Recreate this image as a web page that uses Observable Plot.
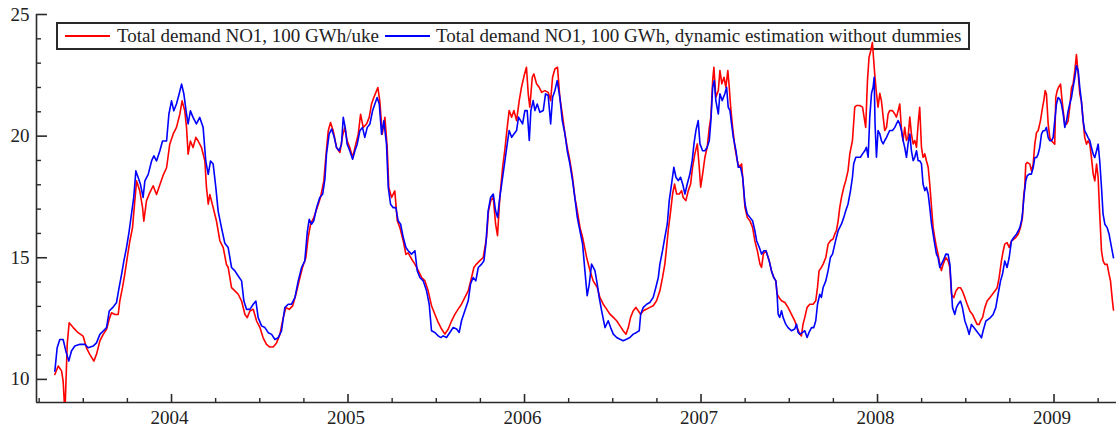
<!DOCTYPE html>
<html>
<head>
<meta charset="utf-8">
<script src="https://cdn.jsdelivr.net/npm/d3@7"></script>
<script src="https://cdn.jsdelivr.net/npm/@observablehq/plot@0.6"></script>
<style>
  html, body { margin: 0; padding: 0; background: #fff; }
  #wrap { position: relative; width: 1116px; height: 430px; font-family: "Liberation Serif", "Times New Roman", serif; }
  #wrap svg { position: relative; z-index: 1; background: transparent; }
  .legend {
    position: absolute; z-index: 0; left: 56px; top: 22px; width: 910px; height: 24px;
    border: 2px solid #2a2a2a; background: #fff; display: flex; align-items: center;
    font-size: 19px; color: #222; white-space: nowrap;
  }
  .legend .swatch { display: inline-block; width: 45px; height: 0; border-top: 2px solid; }
</style>
</head>
<body>
<div id="wrap">
  <div class="legend">
    <span class="swatch" style="border-color:#ff0000;margin-left:7px"></span>
    <span style="margin-left:7px">Total demand NO1, 100 GWh/uke</span>
    <span class="swatch" style="border-color:#0000ff;margin-left:6px"></span>
    <span style="margin-left:6px">Total demand NO1, 100 GWh, dynamic estimation without dummies</span>
  </div>
</div>
<script>
// Weekly demand, [decimal year, 100 GWh]
const observedDemand = [
  [2003.339,10.2],[2003.358,10.55],[2003.377,10.35],[2003.386,9.93],[2003.396,8.6],[2003.409,11.44],[2003.420,12.33],
  [2003.443,12.13],[2003.471,11.92],[2003.499,11.78],[2003.518,11.3],[2003.537,11.03],[2003.560,10.75],[2003.575,11.03],
  [2003.594,11.58],[2003.613,11.85],[2003.632,12.06],[2003.647,12.47],[2003.660,12.74],[2003.679,12.67],[2003.698,12.67],
  [2003.707,13.22],[2003.722,13.77],[2003.735,14.32],[2003.749,15.0],[2003.764,15.69],[2003.779,16.24],[2003.792,17.34],
  [2003.802,18.16],[2003.820,17.75],[2003.836,17.06],[2003.843,16.5],[2003.858,17.34],[2003.877,17.68],[2003.896,17.96],
  [2003.915,17.6],[2003.934,18.0],[2003.953,18.4],[2003.972,18.7],[2003.990,19.67],[2004.009,20.08],[2004.028,20.36],
  [2004.047,20.9],[2004.060,21.45],[2004.075,21.04],[2004.085,20.36],[2004.094,19.26],[2004.107,19.8],[2004.122,19.53],
  [2004.138,19.95],[2004.151,19.8],[2004.170,19.53],[2004.189,18.98],[2004.198,17.89],[2004.208,17.2],[2004.217,17.6],
  [2004.236,17.06],[2004.255,16.5],[2004.274,15.69],[2004.293,15.42],[2004.311,14.73],[2004.321,14.6],[2004.340,13.77],
  [2004.359,13.64],[2004.378,13.5],[2004.397,13.22],[2004.416,12.67],[2004.429,12.54],[2004.444,12.81],[2004.463,12.88],
  [2004.482,12.4],[2004.501,12.13],[2004.519,11.71],[2004.538,11.44],[2004.557,11.33],[2004.576,11.33],[2004.595,11.5],
  [2004.614,11.85],[2004.633,12.54],[2004.648,12.95],[2004.667,12.88],[2004.686,13.02],[2004.705,13.5],[2004.723,14.05],
  [2004.742,14.6],[2004.761,15.0],[2004.774,15.83],[2004.788,16.38],[2004.806,16.65],[2004.825,17.06],[2004.844,17.48],
  [2004.863,18.16],[2004.874,19.12],[2004.888,20.22],[2004.901,20.56],[2004.916,20.22],[2004.935,19.53],[2004.954,19.33],
  [2004.969,20.01],[2004.982,20.36],[2004.995,19.81],[2005.010,19.53],[2005.026,19.12],[2005.044,19.67],[2005.058,20.08],
  [2005.071,20.9],[2005.086,20.36],[2005.105,20.5],[2005.120,20.77],[2005.133,21.32],[2005.146,21.59],[2005.158,21.8],
  [2005.169,22.0],[2005.180,21.45],[2005.194,20.08],[2005.209,20.77],[2005.222,19.53],[2005.231,17.89],[2005.247,17.48],
  [2005.265,17.75],[2005.279,16.52],[2005.294,16.24],[2005.313,15.69],[2005.328,15.14],[2005.341,15.2],[2005.360,14.95],
  [2005.379,14.74],[2005.398,14.47],[2005.417,14.19],[2005.436,14.05],[2005.454,13.64],[2005.473,13.03],[2005.492,12.68],
  [2005.511,12.34],[2005.530,12.07],[2005.549,11.86],[2005.568,12.07],[2005.587,12.41],[2005.606,12.68],[2005.624,12.89],
  [2005.643,13.09],[2005.662,13.37],[2005.681,13.64],[2005.700,14.19],[2005.713,14.6],[2005.728,14.74],[2005.747,14.88],
  [2005.766,15.01],[2005.785,15.84],[2005.796,16.93],[2005.809,17.35],[2005.823,17.48],[2005.836,16.39],[2005.847,15.91],
  [2005.860,17.48],[2005.876,18.72],[2005.889,19.47],[2005.902,20.36],[2005.913,21.05],[2005.927,20.78],[2005.940,21.05],
  [2005.955,20.64],[2005.970,21.46],[2005.983,22.01],[2005.998,22.49],[2006.011,22.83],[2006.021,21.74],[2006.030,21.19],
  [2006.044,22.42],[2006.053,22.56],[2006.068,22.15],[2006.083,22.01],[2006.097,21.8],[2006.115,21.87],[2006.134,21.8],
  [2006.148,21.46],[2006.159,22.42],[2006.172,22.76],[2006.187,22.83],[2006.200,21.6],[2006.214,20.91],[2006.229,20.09],
  [2006.242,19.54],[2006.257,18.99],[2006.272,18.31],[2006.285,17.48],[2006.299,16.93],[2006.314,16.25],[2006.329,15.84],
  [2006.352,15.01],[2006.371,14.47],[2006.389,14.05],[2006.412,13.78],[2006.427,13.37],[2006.446,13.09],[2006.465,12.89],
  [2006.484,12.68],[2006.503,12.55],[2006.522,12.41],[2006.541,12.2],[2006.559,12.0],[2006.575,11.86],[2006.588,12.13],
  [2006.601,12.55],[2006.616,12.82],[2006.631,12.96],[2006.644,12.82],[2006.658,12.68],[2006.673,12.82],[2006.692,12.89],
  [2006.710,12.96],[2006.729,13.03],[2006.748,13.23],[2006.767,13.64],[2006.782,14.19],[2006.795,14.74],[2006.805,15.43],
  [2006.814,16.11],[2006.828,16.93],[2006.839,17.62],[2006.850,18.03],[2006.862,17.62],[2006.877,17.62],[2006.890,17.76],
  [2006.899,17.48],[2006.914,17.35],[2006.928,17.76],[2006.941,18.03],[2006.952,18.72],[2006.965,19.27],[2006.979,19.68],
  [2006.990,18.72],[2006.998,17.9],[2007.009,18.44],[2007.022,19.13],[2007.035,19.54],[2007.047,20.36],[2007.056,20.78],
  [2007.066,22.28],[2007.073,22.83],[2007.084,21.6],[2007.098,21.87],[2007.107,22.7],[2007.118,22.15],[2007.130,22.42],
  [2007.141,22.01],[2007.152,22.7],[2007.160,22.01],[2007.168,21.19],[2007.179,20.36],[2007.192,19.54],[2007.205,18.99],
  [2007.217,18.72],[2007.230,18.86],[2007.239,18.03],[2007.249,17.07],[2007.262,16.66],[2007.277,16.52],[2007.292,16.25],
  [2007.305,15.7],[2007.319,15.29],[2007.334,14.74],[2007.343,14.6],[2007.353,15.15],[2007.368,15.29],[2007.386,14.88],
  [2007.399,14.47],[2007.412,14.19],[2007.424,14.05],[2007.431,13.5],[2007.442,13.37],[2007.456,13.23],[2007.475,13.16],
  [2007.493,12.96],[2007.512,12.68],[2007.531,12.41],[2007.544,12.13],[2007.560,11.86],[2007.569,11.79],[2007.578,12.27],
  [2007.588,12.55],[2007.601,12.96],[2007.616,13.09],[2007.635,13.09],[2007.650,13.23],[2007.660,13.78],[2007.669,14.47],
  [2007.682,14.6],[2007.692,14.74],[2007.707,15.01],[2007.720,15.56],[2007.733,15.7],[2007.748,15.77],[2007.758,15.98],
  [2007.767,16.11],[2007.777,16.52],[2007.786,17.07],[2007.796,17.48],[2007.809,17.9],[2007.820,18.17],[2007.833,18.58],
  [2007.843,19.27],[2007.858,19.82],[2007.871,21.19],[2007.881,21.26],[2007.899,21.26],[2007.915,21.19],[2007.924,20.78],
  [2007.933,20.36],[2007.943,22.28],[2007.952,23.24],[2007.962,23.52],[2007.971,23.85],[2007.984,22.56],[2007.994,21.76],
  [2008.003,21.19],[2008.013,21.76],[2008.022,21.46],[2008.032,20.78],[2008.041,20.23],[2008.051,20.36],[2008.060,20.91],
  [2008.069,21.05],[2008.085,21.05],[2008.098,20.91],[2008.107,20.78],[2008.117,21.05],[2008.126,21.32],[2008.136,20.23],
  [2008.145,19.82],[2008.154,20.36],[2008.164,19.82],[2008.173,19.95],[2008.183,20.78],[2008.192,20.09],[2008.202,19.68],
  [2008.211,19.82],[2008.221,19.54],[2008.230,20.5],[2008.239,21.19],[2008.249,19.54],[2008.258,19.13],[2008.268,19.27],
  [2008.277,18.99],[2008.287,18.72],[2008.296,18.03],[2008.306,17.07],[2008.315,16.25],[2008.324,15.84],[2008.334,15.43],
  [2008.343,15.15],[2008.353,14.74],[2008.362,14.47],[2008.372,14.74],[2008.387,15.01],[2008.400,14.87],[2008.410,14.6],
  [2008.419,13.5],[2008.432,13.36],[2008.444,13.63],[2008.457,13.77],[2008.470,13.77],[2008.481,13.63],[2008.495,13.36],
  [2008.508,13.09],[2008.523,12.81],[2008.538,12.67],[2008.551,12.47],[2008.564,12.26],[2008.576,12.26],[2008.583,12.4],
  [2008.595,12.54],[2008.608,12.95],[2008.621,13.22],[2008.636,13.36],[2008.651,13.5],[2008.665,13.63],[2008.678,13.77],
  [2008.689,14.18],[2008.702,14.87],[2008.712,15.28],[2008.721,15.56],[2008.734,15.62],[2008.746,15.42],[2008.759,15.69],
  [2008.772,15.76],[2008.783,15.83],[2008.797,15.97],[2008.810,16.24],[2008.821,16.65],[2008.829,17.61],[2008.834,17.89],
  [2008.840,18.85],[2008.848,18.92],[2008.863,18.85],[2008.872,18.57],[2008.882,18.85],[2008.891,19.67],[2008.901,20.15],
  [2008.910,20.22],[2008.923,20.63],[2008.935,21.18],[2008.942,21.45],[2008.950,21.87],[2008.957,21.73],[2008.967,20.49],
  [2008.976,19.94],[2008.986,19.81],[2008.995,19.74],[2009.004,19.67],[2009.010,21.59],[2009.018,21.87],[2009.025,22.0],
  [2009.037,22.14],[2009.044,21.59],[2009.052,21.04],[2009.061,20.49],[2009.071,20.49],[2009.080,20.63],[2009.089,21.18],
  [2009.099,22.0],[2009.108,22.14],[2009.118,22.69],[2009.127,23.35],[2009.137,22.55],[2009.146,21.73],[2009.155,21.45],
  [2009.165,20.63],[2009.174,19.94],[2009.184,19.67],[2009.193,19.81],[2009.203,19.67],[2009.212,19.12],[2009.222,18.44],
  [2009.231,18.16],[2009.241,18.85],[2009.250,18.3],[2009.259,16.79],[2009.269,15.28],[2009.278,14.87],[2009.288,14.73],
  [2009.301,14.73],[2009.312,14.32],[2009.320,14.05],[2009.331,13.22],[2009.337,12.85]
];

const estimatedDemand = [
  [2003.339,10.34],[2003.352,11.3],[2003.367,11.64],[2003.386,11.64],[2003.401,11.17],[2003.418,10.75],[2003.433,11.17],
  [2003.452,11.37],[2003.481,11.44],[2003.509,11.44],[2003.528,11.3],[2003.556,11.37],[2003.575,11.5],[2003.594,11.85],
  [2003.613,11.99],[2003.632,12.13],[2003.647,12.81],[2003.666,12.95],[2003.688,13.15],[2003.703,13.77],[2003.717,14.32],
  [2003.730,14.87],[2003.745,15.42],[2003.760,16.1],[2003.773,16.79],[2003.786,17.48],[2003.798,18.57],[2003.811,18.3],
  [2003.824,18.02],[2003.839,17.48],[2003.849,18.16],[2003.868,18.43],[2003.887,18.98],[2003.900,19.19],[2003.915,18.98],
  [2003.934,19.4],[2003.949,19.8],[2003.972,19.8],[2003.985,20.9],[2004.000,21.45],[2004.013,21.04],[2004.028,21.32],
  [2004.043,21.73],[2004.057,22.14],[2004.070,21.73],[2004.085,20.9],[2004.094,20.5],[2004.107,21.04],[2004.122,20.77],
  [2004.141,20.5],[2004.160,20.77],[2004.179,20.36],[2004.194,18.98],[2004.208,18.43],[2004.221,18.98],[2004.236,18.85],
  [2004.251,17.89],[2004.264,16.93],[2004.283,16.24],[2004.302,15.6],[2004.321,15.42],[2004.340,14.6],[2004.359,14.46],
  [2004.378,14.25],[2004.397,14.05],[2004.410,13.22],[2004.425,12.88],[2004.444,12.88],[2004.463,13.09],[2004.478,13.22],
  [2004.491,12.54],[2004.510,12.2],[2004.529,12.13],[2004.548,11.92],[2004.567,11.85],[2004.586,11.64],[2004.604,11.71],
  [2004.623,11.99],[2004.642,12.95],[2004.661,13.09],[2004.680,13.09],[2004.699,13.36],[2004.718,14.05],[2004.737,14.6],
  [2004.755,14.87],[2004.769,16.04],[2004.780,16.58],[2004.793,16.38],[2004.806,16.52],[2004.822,17.06],[2004.840,17.48],
  [2004.856,17.61],[2004.869,18.23],[2004.878,19.26],[2004.893,20.08],[2004.907,20.29],[2004.920,20.01],[2004.935,19.53],
  [2004.950,19.4],[2004.963,19.67],[2004.973,20.77],[2004.984,20.36],[2004.995,19.67],[2005.010,19.4],[2005.026,19.05],
  [2005.039,19.4],[2005.052,19.67],[2005.067,20.22],[2005.082,20.36],[2005.095,19.95],[2005.109,20.36],[2005.124,20.5],
  [2005.139,21.04],[2005.152,21.32],[2005.165,21.59],[2005.177,21.32],[2005.190,20.08],[2005.203,20.63],[2005.218,19.67],
  [2005.228,17.89],[2005.241,17.2],[2005.256,17.06],[2005.271,17.06],[2005.284,16.52],[2005.298,16.38],[2005.313,15.83],
  [2005.328,15.42],[2005.341,15.29],[2005.360,15.15],[2005.379,15.29],[2005.392,14.47],[2005.407,14.19],[2005.426,14.05],
  [2005.445,13.64],[2005.460,13.09],[2005.473,12.0],[2005.492,11.93],[2005.511,11.79],[2005.526,11.72],[2005.539,11.79],
  [2005.558,11.72],[2005.577,11.93],[2005.596,12.13],[2005.615,12.07],[2005.630,11.93],[2005.643,12.41],[2005.662,12.82],
  [2005.681,13.23],[2005.694,13.92],[2005.709,14.19],[2005.724,14.05],[2005.738,14.6],[2005.757,14.74],[2005.770,14.88],
  [2005.781,15.56],[2005.794,16.93],[2005.808,17.48],[2005.823,17.62],[2005.836,16.93],[2005.847,16.66],[2005.860,17.48],
  [2005.876,18.31],[2005.889,18.99],[2005.902,19.68],[2005.913,20.23],[2005.927,19.95],[2005.940,20.09],[2005.955,20.23],
  [2005.966,20.78],[2005.978,20.64],[2005.989,20.5],[2006.002,21.05],[2006.015,21.05],[2006.027,19.82],[2006.036,21.05],
  [2006.049,21.46],[2006.059,21.05],[2006.072,21.32],[2006.087,20.98],[2006.106,21.05],[2006.119,21.74],[2006.134,21.67],
  [2006.148,20.5],[2006.159,21.6],[2006.172,21.87],[2006.185,22.28],[2006.200,21.6],[2006.214,20.64],[2006.229,20.09],
  [2006.242,19.4],[2006.257,18.86],[2006.272,18.17],[2006.285,17.48],[2006.299,16.66],[2006.314,16.11],[2006.329,15.56],
  [2006.342,14.47],[2006.355,13.44],[2006.367,13.92],[2006.380,14.74],[2006.399,14.47],[2006.412,13.92],[2006.423,13.37],
  [2006.437,12.82],[2006.456,12.13],[2006.474,12.41],[2006.488,12.13],[2006.503,11.86],[2006.522,11.72],[2006.541,11.65],
  [2006.559,11.59],[2006.578,11.65],[2006.597,11.72],[2006.616,11.86],[2006.635,11.93],[2006.650,12.0],[2006.658,12.68],
  [2006.673,12.96],[2006.692,13.09],[2006.710,13.16],[2006.729,13.37],[2006.744,13.78],[2006.758,14.19],[2006.767,14.74],
  [2006.782,15.29],[2006.795,15.84],[2006.809,16.39],[2006.820,17.35],[2006.833,18.03],[2006.846,18.72],[2006.858,18.31],
  [2006.871,18.17],[2006.884,18.31],[2006.896,18.03],[2006.909,17.62],[2006.922,18.03],[2006.937,18.44],[2006.950,18.99],
  [2006.960,19.68],[2006.971,20.23],[2006.984,20.64],[2006.994,19.68],[2007.009,19.4],[2007.022,19.4],[2007.035,19.54],
  [2007.047,19.82],[2007.056,20.64],[2007.066,22.01],[2007.075,22.28],[2007.084,21.46],[2007.098,20.91],[2007.107,21.74],
  [2007.120,21.46],[2007.135,21.74],[2007.145,22.01],[2007.154,21.19],[2007.164,21.05],[2007.173,20.5],[2007.183,19.95],
  [2007.198,19.4],[2007.211,18.72],[2007.224,18.72],[2007.236,18.31],[2007.249,17.21],[2007.262,16.8],[2007.277,16.66],
  [2007.292,16.52],[2007.305,16.11],[2007.315,15.7],[2007.330,15.43],[2007.343,15.15],[2007.356,15.29],[2007.368,15.29],
  [2007.386,14.88],[2007.399,14.47],[2007.412,14.19],[2007.424,14.05],[2007.431,13.5],[2007.437,12.68],[2007.446,12.55],
  [2007.456,12.82],[2007.465,12.55],[2007.480,12.27],[2007.493,12.13],[2007.512,12.0],[2007.531,12.07],[2007.541,12.27],
  [2007.550,11.93],[2007.560,11.86],[2007.575,11.93],[2007.588,12.0],[2007.601,11.72],[2007.612,11.93],[2007.626,12.13],
  [2007.639,12.13],[2007.650,12.41],[2007.660,13.09],[2007.673,13.5],[2007.682,13.37],[2007.692,13.78],[2007.707,14.05],
  [2007.720,14.47],[2007.733,15.01],[2007.745,15.15],[2007.758,15.56],[2007.767,15.84],[2007.777,16.11],[2007.786,16.25],
  [2007.796,16.39],[2007.809,16.66],[2007.820,16.93],[2007.833,17.21],[2007.847,17.76],[2007.858,18.31],[2007.865,18.86],
  [2007.877,19.13],[2007.890,19.13],[2007.903,19.13],[2007.915,19.27],[2007.928,19.4],[2007.937,19.54],[2007.947,19.13],
  [2007.956,20.78],[2007.966,21.76],[2007.975,22.01],[2007.981,22.42],[2007.986,20.5],[2007.994,19.13],[2008.003,20.23],
  [2008.013,20.09],[2008.022,19.82],[2008.032,19.68],[2008.041,19.82],[2008.051,19.95],[2008.060,20.09],[2008.069,20.23],
  [2008.085,20.23],[2008.098,20.36],[2008.107,20.5],[2008.117,20.64],[2008.126,20.5],[2008.136,20.23],[2008.145,19.82],
  [2008.154,19.54],[2008.164,19.13],[2008.173,19.68],[2008.183,20.09],[2008.192,19.4],[2008.202,18.99],[2008.211,19.13],
  [2008.221,19.4],[2008.230,18.99],[2008.239,18.99],[2008.249,18.86],[2008.258,18.03],[2008.268,17.76],[2008.277,17.9],
  [2008.287,17.62],[2008.296,17.07],[2008.306,16.39],[2008.315,15.98],[2008.324,15.56],[2008.334,15.15],[2008.343,15.01],
  [2008.353,14.6],[2008.362,14.74],[2008.372,14.88],[2008.387,15.15],[2008.400,15.14],[2008.410,14.73],[2008.419,13.63],
  [2008.425,12.95],[2008.438,12.67],[2008.447,12.95],[2008.457,13.09],[2008.470,13.22],[2008.481,12.95],[2008.495,12.4],
  [2008.508,12.13],[2008.519,11.85],[2008.532,12.26],[2008.546,12.13],[2008.561,11.99],[2008.576,11.85],[2008.589,11.71],
  [2008.598,11.99],[2008.614,12.4],[2008.627,12.47],[2008.640,12.54],[2008.655,12.67],[2008.670,12.95],[2008.683,13.5],
  [2008.697,14.05],[2008.708,14.32],[2008.721,14.87],[2008.734,14.6],[2008.746,15.01],[2008.759,15.69],[2008.772,15.83],
  [2008.787,15.97],[2008.797,16.1],[2008.806,16.24],[2008.816,16.52],[2008.821,16.79],[2008.831,17.61],[2008.840,18.16],
  [2008.848,18.37],[2008.859,18.44],[2008.872,18.44],[2008.882,18.71],[2008.891,19.12],[2008.901,19.12],[2008.910,19.26],
  [2008.919,19.53],[2008.929,20.08],[2008.938,20.22],[2008.948,20.22],[2008.957,20.36],[2008.967,19.94],[2008.976,19.81],
  [2008.986,19.81],[2008.995,19.94],[2009.004,20.63],[2009.014,21.32],[2009.023,21.59],[2009.033,21.52],[2009.042,21.32],
  [2009.052,20.91],[2009.061,20.36],[2009.071,20.63],[2009.080,21.04],[2009.089,21.32],[2009.099,21.59],[2009.108,22.0],
  [2009.118,22.41],[2009.127,22.9],[2009.137,22.69],[2009.146,22.0],[2009.155,21.45],[2009.165,20.63],[2009.174,20.22],
  [2009.184,20.08],[2009.193,19.94],[2009.203,19.81],[2009.212,19.53],[2009.222,19.26],[2009.231,19.12],[2009.241,19.4],
  [2009.250,19.67],[2009.259,18.98],[2009.269,17.89],[2009.278,16.79],[2009.288,16.38],[2009.301,16.24],[2009.312,15.97],
  [2009.326,15.42],[2009.337,15.0]
];

// Axis extents and tick positions
const xDomain = [2003.235, 2009.354];
const yDomain = [9.05, 25];
const yearTicks = [2004, 2005, 2006, 2007, 2008, 2009];
const quarterTicks = [2003.25, 2003.5, 2003.75, 2004.25, 2004.5, 2004.75, 2005.25, 2005.5, 2005.75,
  2006.25, 2006.5, 2006.75, 2007.25, 2007.5, 2007.75, 2008.25, 2008.5, 2008.75, 2009.25];
const yMajorTicks = [10, 15, 20, 25];
const yMinorTicks = [11, 12, 13, 14, 16, 17, 18, 19, 21, 22, 23, 24];

const W = 1116, H = 430;
const M = {top: 14, right: 0, bottom: 28, left: 36};
const innerW = W - M.left - M.right;
const innerH = H - M.top - M.bottom;
const axisColor = "#2a2a2a";

const chart = Plot.plot({
  width: W,
  height: H,
  marginTop: M.top,
  marginRight: M.right,
  marginBottom: M.bottom,
  marginLeft: M.left,
  style: {fontFamily: "'Liberation Serif', 'Times New Roman', serif", fontSize: "19px", color: "#222", background: "transparent"},
  x: {domain: xDomain},
  y: {domain: yDomain},
  marks: [
    // inward-pointing ticks on both axes
    Plot.ruleY(yMinorTicks, {stroke: axisColor, strokeWidth: 1.4, insetRight: innerW - 5}),
    Plot.ruleY(yMajorTicks, {stroke: axisColor, strokeWidth: 1.6, insetRight: innerW - 11}),
    Plot.ruleX(quarterTicks, {stroke: axisColor, strokeWidth: 1.4, insetTop: innerH - 4}),
    Plot.ruleX(yearTicks, {stroke: axisColor, strokeWidth: 1.6, insetTop: innerH - 8}),
    // axis lines
    Plot.ruleX([xDomain[0]], {stroke: axisColor, strokeWidth: 1.6}),
    Plot.ruleY([yDomain[0]], {stroke: axisColor, strokeWidth: 1.6}),
    Plot.axisY(yMajorTicks, {tickSize: 0, tickPadding: 7, label: null}),
    Plot.axisX(yearTicks, {tickSize: 0, tickPadding: 8, dx: -2, tickFormat: d3.format("d"), label: null}),
    Plot.line(observedDemand, {x: d => d[0], y: d => d[1], stroke: "#ff0000", strokeWidth: 1.6, clip: true}),
    Plot.line(estimatedDemand, {x: d => d[0], y: d => d[1], stroke: "#0000ff", strokeWidth: 1.6, clip: true})
  ]
});

document.getElementById("wrap").appendChild(chart);
</script>
</body>
</html>
